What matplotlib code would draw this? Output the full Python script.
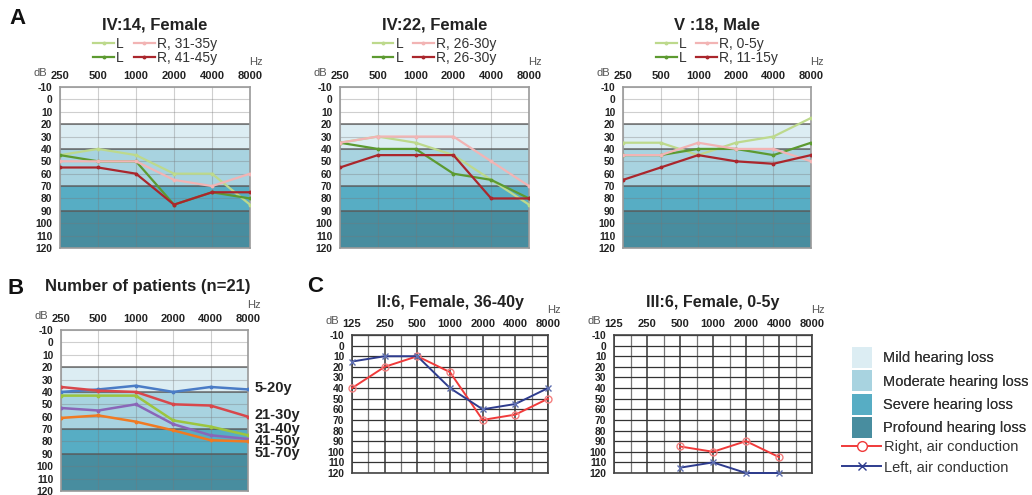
import numpy as np
import matplotlib
matplotlib.use('Agg')
import matplotlib.pyplot as plt
from matplotlib.patches import Patch
from matplotlib.lines import Line2D
from matplotlib.ticker import NullLocator, FixedLocator, NullFormatter

plt.rcParams['font.family'] = ['Liberation Sans', 'DejaVu Sans']

# ---------------- data ----------------
freqs_a = [250, 500, 1000, 2000, 4000, 8000]
freqs_c = [125, 250, 500, 1000, 2000, 4000, 8000]
db_ticks = list(range(-10, 121, 10))

band_edges = [20, 40, 70, 90, 120]
band_names = ["Mild hearing loss", "Moderate hearing loss",
               "Severe hearing loss", "Profound hearing loss"]
band_colors = ["#dcedf3", "#a8d3e0", "#57adc4", "#488d9f"]

a_titles = ["IV:14, Female", "IV:22, Female", "V :18, Male"]
a_labels = [["L", "L", "R, 31-35y", "R, 41-45y"],
            ["L", "L", "R, 26-30y", "R, 26-30y"],
            ["L", "L", "R, 0-5y", "R, 11-15y"]]
a1_L_light = [45, 40, 45, 60, 60, 85]
a1_L_dark = [45, 50, 50, 85, 75, 80]
a1_R_light = [50, 50, 50, 65, 70, 60]
a1_R_dark = [55, 55, 60, 85, 75, 75]
a2_L_light = [35, 30, 35, 45, 65, 85]
a2_L_dark = [35, 40, 40, 60, 65, 80]
a2_R_light = [35, 30, 30, 30, 50, 70]
a2_R_dark = [55, 45, 45, 45, 80, 80]
a3_L_light = [35, 35, 45, 35, 30, 15]
a3_L_dark = [45, 45, 40, 40, 45, 35]
a3_R_light = [45, 45, 35, 40, 40, 50]
a3_R_dark = [65, 55, 45, 50, 52, 45]
a_colors = ["#bdd98c", "#5c9a30", "#f2b4b4", "#aa262c"]

b_title = "Number of patients (n=21)"
b_groups = ["5-20y", "21-30y", "31-40y", "41-50y", "51-70y"]
b_5_20 = [40, 38, 35, 40, 36, 38]
b_21_30 = [36, 39, 40, 50, 51, 60]
b_31_40 = [43, 43, 43, 63, 68, 75]
b_41_50 = [53, 55, 50, 66, 75, 78]
b_51_70 = [61, 59, 64, 71, 79, 80]
b_label_y = [37, 58.5, 70, 79.5, 89]
b_colors = ["#4a7cc6", "#d8474b", "#9cc53f", "#8a66b8", "#f07a22"]

c_titles = ["II:6, Female, 36-40y", "III:6, Female, 0-5y"]
c1_freqs = [125, 250, 500, 1000, 2000, 4000, 8000]
c1_right = [40, 20, 10, 25, 70, 65, 50]
c1_left = [15, 10, 10, 40, 60, 55, 40]
c2_freqs = [500, 1000, 2000, 4000]
c2_right = [95, 100, 90, 105]
c2_left = [115, 110, 120, 120]
c_red = "#f03a3a"
c_blue = "#2e3c8e"

# ---------------- layout ----------------
W, H = 1032, 495
fig = plt.figure(figsize=(W / 100, H / 100), dpi=100)


def px_axes(l, t, r, b):
    return fig.add_axes([l / W, 1 - b / H, (r - l) / W, (b - t) / H])


def common_axes(ax, freqs):
    ax.set_xscale('log', base=2)
    ax.set_xlim(freqs[0], freqs[-1])
    ax.set_ylim(120, -10)
    ax.xaxis.set_major_locator(FixedLocator(freqs))
    ax.set_xticklabels([str(f) for f in freqs])
    ax.xaxis.set_minor_locator(NullLocator())
    ax.xaxis.set_minor_formatter(NullFormatter())
    ax.set_yticks(db_ticks)
    ax.set_yticklabels([str(v) for v in db_ticks])
    ax.xaxis.tick_top()
    ax.tick_params(axis='x', length=0, pad=4.5, labelsize=8, labelcolor='#222')
    ax.tick_params(axis='y', length=0, pad=5.5, labelsize=7.4, labelcolor='#222')
    for lab in ax.get_xticklabels() + ax.get_yticklabels():
        lab.set_fontweight('bold')
    ax.annotate('dB', xy=(0, 1), xycoords='axes fraction', xytext=(-9, 9.8),
                textcoords='offset points', ha='right', va='center',
                fontsize=8, color='#555')
    ax.annotate('Hz', xy=(1, 1), xycoords='axes fraction', xytext=(4, 18),
                textcoords='offset points', ha='center', va='center',
                fontsize=8, color='#555')


def band_axes(ax, freqs):
    common_axes(ax, freqs)
    ax.axhspan(-10, band_edges[0], color='white', zorder=0)
    for top, bot, c in zip(band_edges[:-1], band_edges[1:], band_colors):
        ax.axhspan(top, bot, color=c, zorder=0, lw=0)
    ax.grid(True, which='major', axis='both', color='#777', alpha=0.35, lw=0.8)
    for e in band_edges[:-1]:
        ax.axhline(e, color='#555', lw=1.1, alpha=0.85, zorder=1.6)
    for sp in ax.spines.values():
        sp.set_color('#9a9a9a')
        sp.set_linewidth(1.2)


a_series = [[a1_L_light, a1_L_dark, a1_R_light, a1_R_dark],
            [a2_L_light, a2_L_dark, a2_R_light, a2_R_dark],
            [a3_L_light, a3_L_dark, a3_R_light, a3_R_dark]]
a_boxes = [(60, 87, 250, 248), (340, 87, 529, 248), (623, 87, 811, 248)]

for box, title, series, labels in zip(a_boxes, a_titles, a_series, a_labels):
    ax = px_axes(*box)
    band_axes(ax, freqs_a)
    handles = []
    for vals, col, lab in zip(series, a_colors, labels):
        h, = ax.plot(freqs_a, vals, color=col, lw=1.6, zorder=3,
                     marker='o', markersize=1.8, label=lab)
        handles.append(h)
    hpx = box[3] - box[1]
    ax.text(0.5, 1 + (box[1] - 25) / hpx, title, transform=ax.transAxes,
            ha='center', va='center', fontsize=12, fontweight='bold', color='#222')
    ax.legend(handles=handles, labels=labels, ncol=2, loc='center',
              bbox_to_anchor=(0.5, 1 + (box[1] - 51) / hpx), frameon=False,
              fontsize=10, handlelength=1.5, handletextpad=0.15, columnspacing=0.7,
              labelspacing=0.05, borderpad=0, labelcolor='#333')

# Panel B
bbox = (61, 330, 248, 491)
axb = px_axes(*bbox)
band_axes(axb, freqs_a)
for vals, col in zip([b_5_20, b_21_30, b_31_40, b_41_50, b_51_70], b_colors):
    axb.plot(freqs_a, vals, color=col, lw=1.8, zorder=3, marker='o', markersize=1.8)
for lab, y in zip(b_groups, b_label_y):
    axb.annotate(lab, xy=(1, y), xycoords=('axes fraction', 'data'),
                 xytext=(5, 0), textcoords='offset points', ha='left', va='center',
                 fontsize=10.5, fontweight='bold', color='#222', annotation_clip=False)
axb.text(-16 / 187, 1 + (330 - 287) / 161, b_title, transform=axb.transAxes,
         ha='left', va='center', fontsize=12, fontweight='bold', color='#222')

# Panel C
c_boxes = [(352, 335, 548, 473), (614, 335, 812, 473)]
c_data = [(c1_freqs, c1_right, c1_left), (c2_freqs, c2_right, c2_left)]
for box, title, (fr, rv, lv) in zip(c_boxes, c_titles, c_data):
    ax = px_axes(*box)
    common_axes(ax, freqs_c)
    mids = list(np.sqrt(np.array(freqs_c[:-1]) * np.array(freqs_c[1:])))
    ax.xaxis.set_minor_locator(FixedLocator(mids))
    ax.xaxis.set_minor_formatter(NullFormatter())
    ax.tick_params(axis='x', which='minor', length=0)
    ax.grid(True, which='major', axis='x', color='#444', lw=1.2)
    ax.grid(True, which='minor', axis='x', color='#777', lw=0.9)
    ax.grid(True, which='major', axis='y', color='#333', lw=0.9)
    for sp in ax.spines.values():
        sp.set_color('#444')
        sp.set_linewidth(1.2)
    ax.plot(fr, rv, color=c_red, lw=1.4, marker='o', markersize=5,
            markerfacecolor='none', markeredgecolor='#f58080', zorder=3, clip_on=False)
    ax.plot(fr, lv, color=c_blue, lw=1.4, marker='x', markersize=4,
            markeredgecolor='#6070b0', zorder=3, clip_on=False)
    hpx = box[3] - box[1]
    ax.text(0.5, 1 + (box[1] - 303) / hpx, title, transform=ax.transAxes,
            ha='center', va='center', fontsize=11.5, fontweight='bold', color='#222')

# panel letters
for letter, x, y in [("A", 17, 18), ("B", 16, 288), ("C", 315, 287)]:
    fig.text(x / W, 1 - y / H, letter, ha='center', va='center',
             fontsize=16, fontweight='bold', color='#111')

# legends on right
patch_handles = [Patch(facecolor=c, edgecolor='none') for c in band_colors]
leg1 = fig.legend(handles=patch_handles, labels=band_names, loc='upper left',
                  bbox_to_anchor=(852 / W, 1 - 347 / H), frameon=False,
                  fontsize=10.5, handlelength=1.35, handleheight=1.85, labelspacing=0.15,
                  handletextpad=0.8, borderpad=0, borderaxespad=0, labelcolor='#333')
fig.add_artist(leg1)
line_handles = [Line2D([], [], color=c_red, lw=1.4, marker='o', markersize=7,
                       markerfacecolor='white', markeredgecolor=c_red),
                Line2D([], [], color=c_blue, lw=1.4, marker='x', markersize=6)]
fig.legend(handles=line_handles,
           labels=["Right, air conduction", "Left, air conduction"],
           loc='upper left', bbox_to_anchor=(842 / W, 1 - 440 / H), frameon=False,
           fontsize=10.5, handlelength=2.7, handletextpad=0.2, labelspacing=0.45,
           borderpad=0, borderaxespad=0, labelcolor='#333')

fig.savefig('out.png', dpi=100)
